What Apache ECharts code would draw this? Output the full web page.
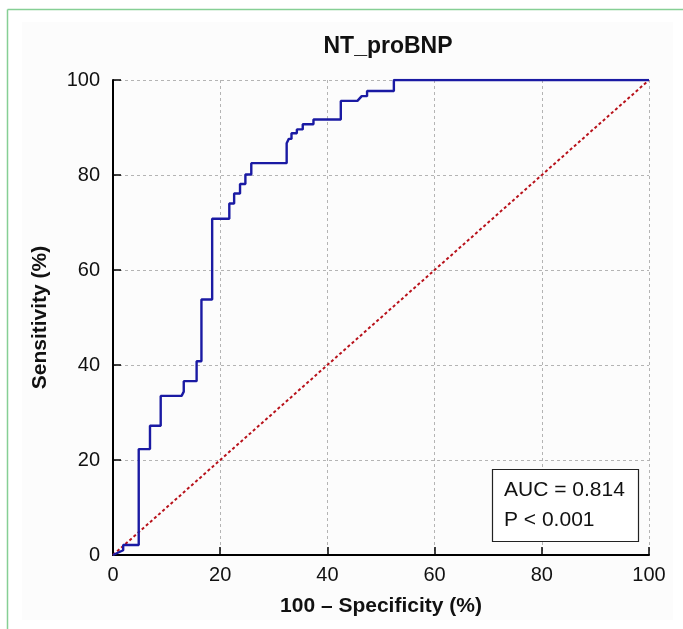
<!DOCTYPE html>
<html>
<head>
<meta charset="utf-8">
<script src="https://cdn.jsdelivr.net/npm/echarts@6/dist/echarts.min.js"></script>
<style>
html,body{margin:0;padding:0;background:#fff;}
#chart{width:683px;height:629px;}
</style>
</head>
<body>
<div id="chart"></div>
<script>
const titleText = 'NT_proBNP';
const xAxisName = '100 – Specificity (%)';
const yAxisName = 'Sensitivity (%)';
const axisTicks = [0, 20, 40, 60, 80, 100];
// ROC curve vertices: 100 - specificity (%)
const rocX = [0, 1.9, 1.9, 4.8, 4.8, 6.9, 6.9, 8.9, 8.9, 12.8, 13.2, 13.2, 15.6, 15.6, 16.5, 16.5, 18.5, 18.5,
  21.7, 21.7, 22.6, 22.6, 23.7, 23.7, 24.7, 24.7, 25.8, 25.8, 32.4, 32.4, 32.8, 33.3, 33.3, 34.3, 34.3, 35.4, 35.4,
  37.4, 37.4, 42.5, 42.5, 45.6, 46.4, 47.4, 47.4, 52.4, 52.4, 100];
// ROC curve vertices: sensitivity (%)
const rocY = [0, 1.0, 2.1, 2.1, 22.3, 22.3, 27.2, 27.2, 33.5, 33.5, 34.4, 36.6, 36.6, 40.8, 40.8, 53.8, 53.8, 70.8,
  70.8, 74.0, 74.0, 76.1, 76.1, 78.1, 78.1, 80.1, 80.1, 82.5, 82.5, 86.7, 87.6, 87.6, 88.8, 88.8, 89.6, 89.6, 90.7,
  90.7, 91.7, 91.7, 95.6, 95.6, 96.6, 96.6, 97.7, 97.7, 100, 100];
const refX = [0, 100];
const refY = [0, 100];
const statLines = ['AUC = 0.814', 'P < 0.001'];

const font = '"Liberation Sans", Arial, Helvetica, sans-serif';
const chart = echarts.init(document.getElementById('chart'), null, {renderer: 'canvas'});

const axisCommon = {
  type: 'value', min: axisTicks[0], max: axisTicks[axisTicks.length - 1], interval: 20,
  axisLine: {show: true, lineStyle: {color: '#000', width: 2}},
  axisTick: {show: true, inside: true, length: 8, lineStyle: {color: '#000', width: 1.5}},
  splitLine: {show: true, lineStyle: {color: '#b4b4b4', width: 1, type: [3, 3]}},
  axisLabel: {color: '#111', fontSize: 20, fontFamily: font},
  nameTextStyle: {color: '#111', fontSize: 21, fontWeight: 'bold', fontFamily: font}
};

chart.setOption({
  backgroundColor: '#fff',
  animation: false,
  title: {
    text: titleText, left: 383, top: 30, textAlign: 'center',
    textStyle: {fontSize: 23, fontWeight: 'bold', color: '#111', fontFamily: font}
  },
  grid: {left: 113, right: 34, top: 80, bottom: 74, containLabel: false},
  xAxis: Object.assign({}, axisCommon, {
    name: xAxisName, nameLocation: 'middle', nameGap: 41,
    axisLabel: Object.assign({}, axisCommon.axisLabel, {margin: 10})
  }),
  yAxis: Object.assign({}, axisCommon, {
    name: yAxisName, nameLocation: 'middle', nameGap: 62,
    axisLabel: Object.assign({}, axisCommon.axisLabel, {margin: 13})
  }),
  graphic: [
    {type: 'rect', z: -10, silent: true, shape: {x: 22, y: 22, width: 651, height: 598}, style: {fill: '#fcfcfc'}},
    {type: 'line', silent: true, shape: {x1: 7.5, y1: 9.5, x2: 683, y2: 9.5}, style: {stroke: '#86cf95', lineWidth: 1.5}},
    {type: 'line', silent: true, shape: {x1: 7.5, y1: 9.5, x2: 7.5, y2: 629}, style: {stroke: '#86cf95', lineWidth: 1.5}},
    {type: 'rect', z: 10, silent: true, shape: {x: 492.5, y: 469.5, width: 146, height: 72},
      style: {fill: '#fff', stroke: '#222', lineWidth: 1.2}},
    {type: 'text', z: 11, silent: true, left: 504, top: 480,
      style: {text: statLines[0], fontSize: 21, fontFamily: font, fill: '#111'}},
    {type: 'text', z: 11, silent: true, left: 504, top: 510,
      style: {text: statLines[1], fontSize: 21, fontFamily: font, fill: '#111'}}
  ],
  series: [
    {
      type: 'line', name: 'Reference', symbol: 'none', z: 2,
      data: refX.map((x, i) => [x, refY[i]]),
      lineStyle: {color: '#b8121b', width: 2, type: [3, 2.5]}
    },
    {
      type: 'line', name: titleText, symbol: 'none', z: 3,
      data: rocX.map((x, i) => [x, rocY[i]]),
      lineStyle: {color: '#1a1aa3', width: 2.4}
    }
  ]
});
</script>
</body>
</html>
